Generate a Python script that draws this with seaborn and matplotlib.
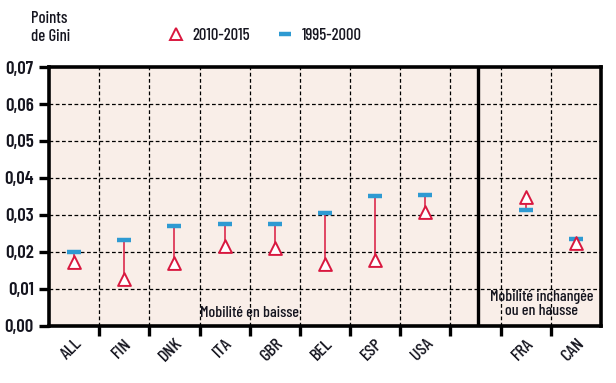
import matplotlib
matplotlib.use("Agg")
import matplotlib.pyplot as plt
import seaborn as sns
import pandas as pd
from matplotlib.lines import Line2D
from matplotlib.ticker import FuncFormatter, MultipleLocator

countries = ["ALL", "FIN", "DNK", "ITA", "GBR", "BEL", "ESP", "USA", "FRA", "CAN"]
groups = ["baisse"] * 8 + ["hausse"] * 2
v2010 = [0.0172, 0.0128, 0.0170, 0.0217, 0.0212, 0.0168, 0.0178, 0.0307, 0.0349, 0.0223]
v1995 = [0.0201, 0.0233, 0.0271, 0.0275, 0.0275, 0.0306, 0.0351, 0.0354, 0.0313, 0.0234]
yticks = [0.00, 0.01, 0.02, 0.03, 0.04, 0.05, 0.06, 0.07]

RED = "#D9183F"
BLUE = "#2E9AD2"
BG = "#F9EEE8"
TXT = "#15151f"

sns.set_theme(style="white")
plt.rcParams["font.family"] = ["Barlow Condensed", "DejaVu Sans"]
plt.rcParams["text.color"] = TXT

# position: one empty slot between the two groups
pos = []
p = 0
prev = groups[0]
for g in groups:
    if g != prev:
        p += 1
        prev = g
    pos.append(p)
    p += 1

df = pd.DataFrame({"pays": countries, "x": pos, "v2010": v2010, "v1995": v1995})

fig = plt.figure(figsize=(6.16, 3.83), dpi=100)
ax = fig.add_axes([0.0795, 0.149, 0.896, 0.676])
ax.set_facecolor(BG)

ax.set_xlim(-0.5, pos[-1] + 0.5)
ax.set_ylim(0, 0.07)

ax.yaxis.set_major_locator(MultipleLocator(0.01))
ax.set_xticks(pos)
ax.set_xticks([i + 0.5 for i in range(pos[-1])], minor=True)
ax.grid(False)
for yv in yticks[1:-1]:
    ax.axhline(yv, color="black", lw=0.9, ls=(0, (3, 2)), zorder=1)
for xv in [i + 0.5 for i in range(pos[-1])]:
    ax.axvline(xv, color="black", lw=0.9, ls=(0, (3, 2)), zorder=1)

sep = (pos[7] + pos[8]) / 2 + 0.05
ax.axvline(sep, color="black", lw=2.4, zorder=3)

ax.vlines(df["x"], df["v2010"], df["v1995"], color=RED, lw=1.1, zorder=2)

sns.scatterplot(data=df, x="x", y="v1995", marker="_", s=90, color=BLUE,
                linewidth=3.2, edgecolor=BLUE, ax=ax, zorder=4, legend=False)
sns.scatterplot(data=df, x="x", y="v2010", marker="^", s=85, facecolor="white",
                edgecolor=RED, linewidth=1.4, ax=ax, zorder=5, legend=False)

ax.set_xlabel("")
ax.set_ylabel("")
ax.set_xticklabels(countries, rotation=45, ha="right", rotation_mode="anchor",
                   fontsize=13, color=TXT, fontweight="medium")
ax.yaxis.set_major_formatter(FuncFormatter(lambda v, _: f"{v:.2f}".replace(".", ",")))
for lab in ax.get_yticklabels():
    lab.set_fontsize(13.5)
    lab.set_fontweight("semibold")
    lab.set_color(TXT)
ax.tick_params(axis="x", which="major", length=0, pad=7)
ax.tick_params(axis="x", which="minor", length=7, width=2.4, color="black", direction="out", bottom=True)
ax.tick_params(axis="y", which="major", length=7, width=2.4, color="black", direction="out", pad=4, left=True)

for s in ax.spines.values():
    s.set_visible(True)
    s.set_color("black")
    s.set_linewidth(2.6)

ax.text(3.5, 0.0036, "Mobilité en baisse", ha="center", va="center", fontsize=11.5,
        color=TXT, fontweight="medium", zorder=6)
ax.text(9.32, 0.0060, "Mobilité inchangée\nou en hausse", ha="center", va="center",
        fontsize=11.5, color=TXT, fontweight="medium", linespacing=1.0, zorder=6)

fig.text(0.05, 0.972, "Points\nde Gini", ha="left", va="top", fontsize=12,
         color=TXT, fontweight="medium", linespacing=1.25)

handles = [
    Line2D([], [], marker="^", ls="none", markersize=9, markerfacecolor="white",
           markeredgecolor=RED, markeredgewidth=1.4, label="2010-2015"),
    Line2D([], [], marker="_", ls="none", markersize=9, markeredgecolor=BLUE,
           markeredgewidth=3.2, label="1995-2000"),
]
leg = fig.legend(handles=handles, loc="center", bbox_to_anchor=(0.43, 0.908), ncol=2,
                 frameon=False, handletextpad=0.5, columnspacing=1.6,
                 handlelength=1.0, prop={"size": 12, "weight": "medium"})

fig.savefig("out.png", dpi=100, facecolor="white")
